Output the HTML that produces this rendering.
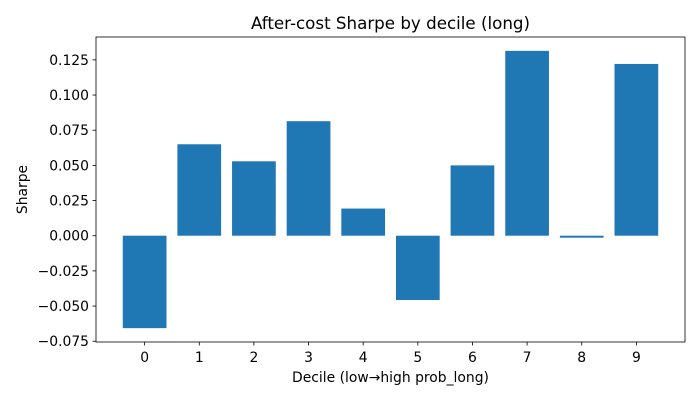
<!DOCTYPE html>
<html><head><meta charset="utf-8"><style>
body{margin:0;background:#fff;}
svg text{font-family:"DejaVu Sans","Liberation Sans",sans-serif;fill:#000;}
</style></head><body>
<svg id="chart" width="700" height="400">
</svg>
<script>
const categories=["0","1","2","3","4","5","6","7","8","9"];
const sharpe=[-0.0657,0.065,0.0529,0.0814,0.0193,-0.0457,0.05,0.1314,-0.0014,0.1221];
const yTicks=[-0.075,-0.05,-0.025,0,0.025,0.05,0.075,0.1,0.125];
const yTickLabels=["−0.075","−0.050","−0.025","0.000","0.025","0.050","0.075","0.100","0.125"];

const L=96,R=685,T=37,B=342;
const svg=document.getElementById('chart');
const NS="http://www.w3.org/2000/svg";
function mk(t,a,p){const e=document.createElementNS(NS,t);for(const k in a)e.setAttribute(k,a[k]);(p||svg).appendChild(e);return e;}
const dmin=Math.min(...sharpe,0),dmax=Math.max(...sharpe,0);
const yr=dmax-dmin,y0=dmin-0.05*yr,y1=dmax+0.05*yr;
const x0=-0.4-0.05*(categories.length-0.2),x1=categories.length-0.6+0.05*(categories.length-0.2);
const sx=v=>L+(v-x0)/(x1-x0)*(R-L);
const sy=v=>B-(v-y0)/(y1-y0)*(B-T);

sharpe.forEach((v,i)=>{
  const r=mk('rect',{x:sx(i-0.4),y:Math.min(sy(v),sy(0)),width:sx(0.4)-sx(-0.4),height:Math.abs(sy(v)-sy(0)),fill:'#1f77b4'});
  
  
});
const frame=mk('rect',{x:L,y:T,width:R-L,height:B-T,fill:'none',stroke:'#000','stroke-width':0.8});


categories.forEach((c,i)=>{
  mk('line',{x1:sx(i),x2:sx(i),y1:B,y2:B+3.5,stroke:'#000','stroke-width':0.8});
  const t=mk('text',{x:sx(i),y:B+20,'text-anchor':'middle','font-size':13.9});
  t.textContent=c;
  
  
});
yTicks.forEach((v,i)=>{
  mk('line',{x1:L-3.5,x2:L,y1:sy(v),y2:sy(v),stroke:'#000','stroke-width':0.8});
  const t=mk('text',{x:L-7,y:sy(v)+5,'text-anchor':'end','font-size':13.9});
  t.textContent=yTickLabels[i];
  
  
});
const ti=mk('text',{x:(L+R)/2,y:29,'text-anchor':'middle','font-size':16.7});
ti.textContent="After-cost Sharpe by decile (long)";


const xt=mk('text',{x:(L+R)/2,y:382,'text-anchor':'middle','font-size':13.9});
xt.textContent="Decile (low→high prob_long)";


const yt=mk('text',{x:27,y:(T+B)/2,'text-anchor':'middle','font-size':13.9,transform:'rotate(-90 27 '+((T+B)/2)+')'});
yt.textContent="Sharpe";


</script>
</body></html>
